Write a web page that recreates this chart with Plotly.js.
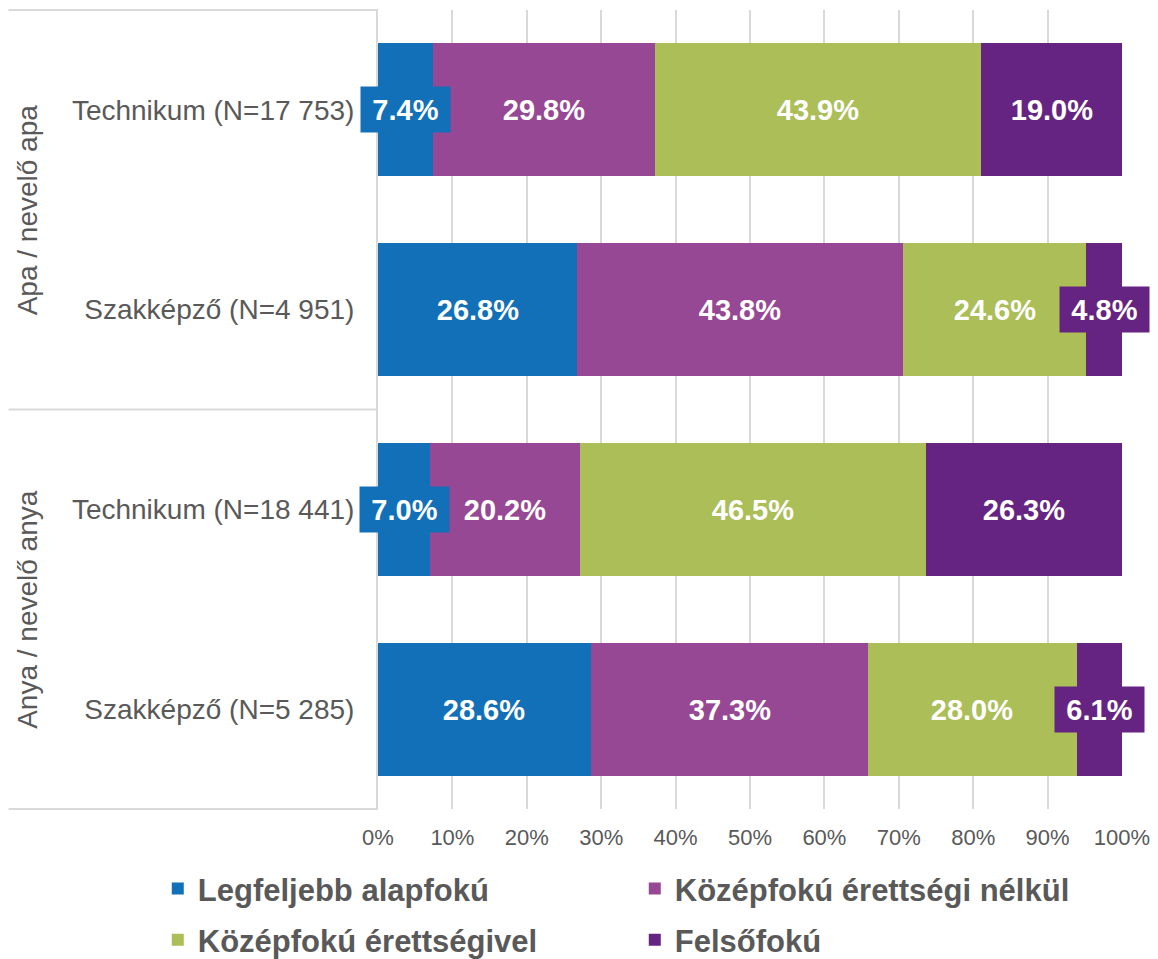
<!DOCTYPE html>
<html>
<head>
<meta charset="utf-8">
<script src="https://cdn.plot.ly/plotly-3.0.1.min.js"></script>
<style>
  html, body { margin: 0; padding: 0; background: #ffffff; }
  #chart { width: 1158px; height: 959px; }
</style>
</head>
<body>
<div id="chart"></div>
<script>
// ---- Data ----
const categories = [
  "Technikum (N=17 753)",
  "Szakképző (N=4 951)",
  "Technikum (N=18 441)",
  "Szakképző (N=5 285)"
];
const groups = ["Apa / nevelő apa", "Anya / nevelő anya"];
const seriesNames = [
  "Legfeljebb alapfokú",
  "Középfokú érettségi nélkül",
  "Középfokú érettségivel",
  "Felsőfokú"
];
const legfeljebbAlapfoku = [7.4, 26.8, 7.0, 28.6];
const kozepfokuErettsegiNelkul = [29.8, 43.8, 20.2, 37.3];
const kozepfokuErettsegivel = [43.9, 24.6, 46.5, 28.0];
const felsofoku = [19.0, 4.8, 26.3, 6.1];
const xTickValues = [0, 10, 20, 30, 40, 50, 60, 70, 80, 90, 100];
const xTickLabels = ["0%", "10%", "20%", "30%", "40%", "50%", "60%", "70%", "80%", "90%", "100%"];

// ---- Styles ----
const colors = ["#1170B8", "#974894", "#ABBE58", "#662482"];
const allSeries = [legfeljebbAlapfoku, kozepfokuErettsegiNelkul, kozepfokuErettsegivel, felsofoku];
const legendIds = ["legend", "legend", "legend2", "legend2"];
const textGray = "#595959";
const gridGray = "#D9D9D9";
const fontFamily = "Liberation Sans, Arial, sans-serif";

const traces = allSeries.map((vals, i) => ({
  type: "bar",
  orientation: "h",
  name: seriesNames[i],
  x: vals,
  y: categories,
  legend: legendIds[i],
  marker: { color: colors[i], line: { width: 0 } },
  hoverinfo: "x+name"
}));

// Data labels (centered on each segment, boxed in the segment colour)
const annotations = [];
categories.forEach((cat, ci) => {
  let cum = 0;
  allSeries.forEach((vals, si) => {
    const v = vals[ci];
    const label = v.toFixed(1) + "%";
    annotations.push({
      x: cum + v / 2,
      y: cat,
      xref: "x",
      yref: "y",
      text: label,
      showarrow: false,
      font: { family: fontFamily, size: 29, color: "#FFFFFF", weight: "bold" },
      bgcolor: colors[si],
      borderpad: 7,
      width: label.length <= 4 ? 75 : 90,
      height: 31
    });
    cum += v;
  });
});

// Group labels (rotated, left side)
groups.forEach((g, gi) => {
  annotations.push({
    x: -0.471,
    y: gi === 0 ? 0.75 : 0.25,
    xref: "paper",
    yref: "paper",
    xanchor: "center",
    yanchor: "middle",
    text: g,
    textangle: -90,
    showarrow: false,
    font: { family: fontFamily, size: 28, color: textGray }
  });
});

// Separator lines for the grouped category axis
const lineStyle = { color: gridGray, width: 2 };
const shapes = [
  { type: "line", xref: "paper", yref: "paper", x0: -0.4966, x1: 0, y0: 1, y1: 1, line: lineStyle },
  { type: "line", xref: "paper", yref: "paper", x0: -0.4966, x1: 0, y0: 0.5, y1: 0.5, line: lineStyle },
  { type: "line", xref: "paper", yref: "paper", x0: -0.4966, x1: 0, y0: 0, y1: 0, line: lineStyle }
];

const legendBase = {
  orientation: "h",
  xref: "paper",
  yref: "paper",
  x: -0.296,
  xanchor: "left",
  yanchor: "top",
  entrywidth: 432,
  entrywidthmode: "pixels",
  traceorder: "normal",
  font: { family: fontFamily, size: 31, color: textGray, weight: "bold" },
  bgcolor: "rgba(0,0,0,0)"
};

const layout = {
  width: 1158,
  height: 959,
  margin: { l: 378, r: 36, t: 10, b: 150, pad: 0, autoexpand: false },
  paper_bgcolor: "#FFFFFF",
  plot_bgcolor: "#FFFFFF",
  barmode: "stack",
  bargap: 0.334,
  font: { family: fontFamily, color: textGray },
  xaxis: {
    range: [0, 100],
    tickmode: "array",
    tickvals: xTickValues,
    ticktext: xTickLabels,
    showgrid: true,
    gridcolor: gridGray,
    gridwidth: 2,
    zeroline: false,
    showline: false,
    ticks: "",
    ticklabelstandoff: 13,
    tickfont: { family: fontFamily, size: 22, color: textGray },
    fixedrange: true
  },
  yaxis: {
    type: "category",
    categoryorder: "array",
    categoryarray: categories,
    autorange: "reversed",
    showline: true,
    linecolor: gridGray,
    linewidth: 2,
    showgrid: false,
    ticks: "",
    ticklabelstandoff: 16,
    tickfont: { family: fontFamily, size: 28, color: textGray },
    fixedrange: true
  },
  legend: Object.assign({}, legendBase, { y: -0.0663 }),
  legend2: Object.assign({}, legendBase, { y: -0.1302 }),
  showlegend: true,
  annotations: annotations,
  shapes: shapes
};

Plotly.newPlot("chart", traces, layout, { displayModeBar: false });
</script>
</body>
</html>
